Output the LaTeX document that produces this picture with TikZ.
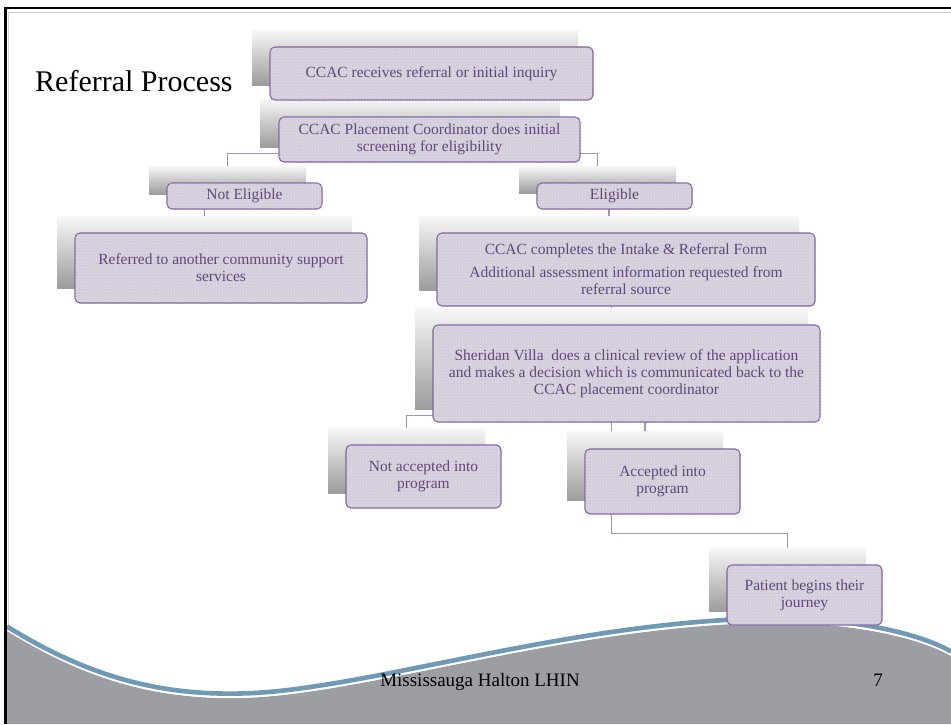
\documentclass[tikz,border=0pt]{standalone}
\usepackage{fontspec}
\setmainfont{Liberation Serif}
\usetikzlibrary{patterns,calc}
\pgfdeclarelayer{bglayer}
\pgfdeclarelayer{connlayer}
\pgfsetlayers{bglayer,connlayer,main}
\definecolor{boxfill}{HTML}{D4CDDB}
\definecolor{boxline}{HTML}{8064A2}
\definecolor{boxtext}{HTML}{5F497A}
\definecolor{conn}{HTML}{A68FC2}
\definecolor{wavegray}{HTML}{9D9EA3}
\definecolor{waveblue}{HTML}{6F9AB6}
\definecolor{shtop}{HTML}{F7F7F7}
\definecolor{shmid}{HTML}{E2E2E2}
\definecolor{shbot}{HTML}{9C9C9C}
\tikzset{
  stepbox/.style={draw=boxline, line width=1.1pt, rounded corners=5pt, fill=boxfill,
    postaction={pattern=dots, pattern color=white!85!boxfill},
    text=boxtext, font=\fontsize{15.5}{17}\selectfont, align=center, inner sep=0pt,
    anchor=center},
  shadowrect/.style={shade, top color=shtop, middle color=shmid, bottom color=shbot,
    inner sep=0pt, anchor=center},
  connline/.style={draw=conn, line width=1.1pt},
}
\newcommand\shadowat[5]{\node[shadowrect, minimum width={#4pt-#2pt}, minimum height={#5pt-#3pt}] (#1) at ({(#2+#4)/2},{-(#3+#5)/2}) {};}
\newcommand\boxat[6]{\node[stepbox, minimum width={#4pt-#2pt}, minimum height={#5pt-#3pt}] (#1) at ({(#2+#4)/2},{-(#3+#5)/2}) {#6};}
\begin{document}
\begin{tikzpicture}[x=1pt,y=1pt]
\useasboundingbox (0,0) rectangle (951,-724);
\begin{pgfonlayer}{bglayer}
\fill[white] (0,0) rectangle (951,-724);
% inner light frame line
\draw[gray!35, line width=1pt] (8.8,-724) -- (8.8,-12.5) -- (951,-12.5);
% wave
\begin{scope}
\clip (7,-600) rectangle (951,-724);
\fill[wavegray] (7,-631) .. controls (80,-676) and (150,-700) .. (240,-698) .. controls (360,-696) and (560,-628) .. (760,-623) .. controls (850,-621) and (920,-638) .. (951,-656) -- (951,-724) -- (7,-724) -- cycle;
\draw[white, line width=1.4pt] (7,-630) .. controls (80,-675) and (150,-699) .. (240,-697) .. controls (360,-695) and (560,-627) .. (760,-622) .. controls (850,-620) and (920,-637) .. (951,-655);
\draw[waveblue, line width=4.6pt] (7,-626.5) .. controls (80,-671.5) and (150,-695.5) .. (240,-693.5) .. controls (360,-691.5) and (560,-623.5) .. (760,-618.5) .. controls (850,-616.5) and (920,-633.5) .. (951,-651.5);
\end{scope}
% frame
\draw[black, line width=2.6pt] (5.3,-724) -- (5.3,-8) -- (951,-8);
\end{pgfonlayer}

% title
\node[anchor=base west, font=\fontsize{30}{33}\selectfont, inner sep=0pt] (title) at (35,-91) {Referral Process};

% footer
\node[anchor=base, font=\fontsize{19}{21}\selectfont, inner sep=0pt] (foot) at (480,-686) {Mississauga Halton LHIN};
\node[anchor=base, font=\fontsize{19}{21}\selectfont, inner sep=0pt] (pagenum) at (878,-686) {7};

% shadow shapes
\shadowat{s1}{252}{30}{578}{85}
\shadowat{s2}{260}{99}{560}{147}
\shadowat{s3}{149}{166}{306}{194}
\shadowat{s4}{519}{166}{676}{193}
\shadowat{s5}{57}{216}{352}{288}
\shadowat{s6}{419}{216}{799}{290}
\shadowat{s7}{415}{308}{808}{409}
\shadowat{s8}{328}{428}{485}{493}
\shadowat{s9}{567}{431}{723}{500}
\shadowat{s10}{709}{548}{866}{611}

% connectors, behind the shapes
\begin{pgfonlayer}{connlayer}
\draw[connline] (s2.south) -- ++(0,-6) -| (s3.north);
\draw[connline] (s2.south) -- ++(0,-6) -| (s4.north);
\draw[connline] (s3.south) -- ++(0,-11) -| (s5.north);
\draw[connline] (s4.south) -- ++(0,-12) -| (s6.north);
\draw[connline] (s6.south) -- ++(0,-9) -| (s7.north);
\draw[connline] (s7.south) -- ++(0,-6) -| (s8.north);
\draw[connline] (s7.south) -- ++(0,-6) -| (s9.north);
\draw[connline] (s7.south) |- ($(s10.north)+(0,14)$) -- (s10.north);
\end{pgfonlayer}

% boxes
\boxat{b1}{270}{47}{593}{100}{CCAC receives referral or initial inquiry}
\boxat{b2}{279}{117}{580}{162}{CCAC Placement Coordinator does initial\\screening for eligibility}
\boxat{b3}{167}{183}{322}{209}{Not Eligible}
\boxat{b4}{537}{183}{692}{209}{Eligible}
\boxat{b5}{75}{233}{367}{303}{Referred to another community support\\services}
\boxat{b6}{437}{233}{815}{306}{CCAC completes the Intake \& Referral Form\\[6pt]Additional assessment information requested from\\referral source}
\boxat{b7}{433}{325}{820}{422}{Sheridan Villa\ \ does a clinical review of the application\\and makes a decision which is communicated back to the\\CCAC placement coordinator}
\boxat{b8}{346}{445}{501}{508}{Not accepted into\\program}
\boxat{b9}{585}{449}{740}{514}{Accepted into\\program}
\boxat{b10}{727}{565}{882}{625}{Patient begins their\\journey}
\end{tikzpicture}
\end{document}
